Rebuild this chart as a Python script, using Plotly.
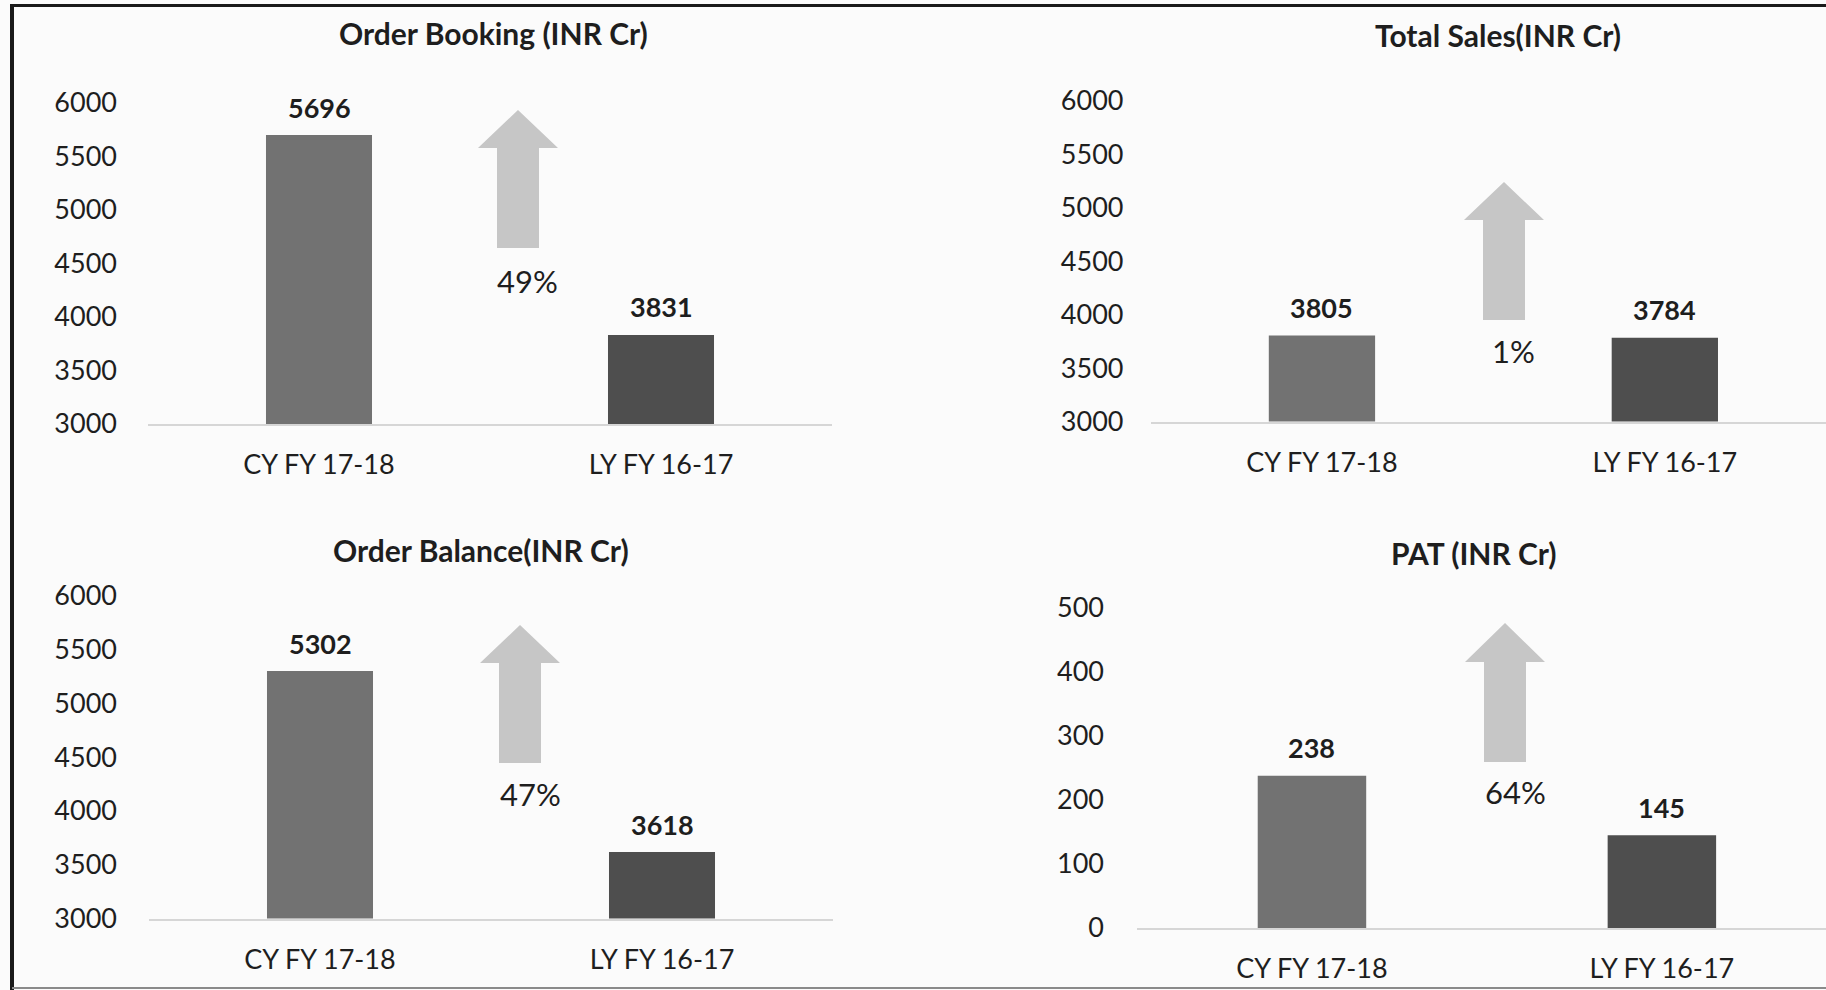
import plotly.graph_objects as go

W, H = 1826, 990

# ---------------- data ----------------
categories = ["CY FY 17-18", "LY FY 16-17"]
panel_titles = ["Order Booking (INR Cr)", "Total Sales(INR Cr)",
                "Order Balance(INR Cr)", "PAT (INR Cr)"]
order_booking = [5696, 3831]
total_sales = [3805, 3784]
order_balance = [5302, 3618]
pat = [238, 145]
growth_labels = ["49%", "1%", "47%", "64%"]
inr_ticks = [3000, 3500, 4000, 4500, 5000, 5500, 6000]
pat_ticks = [0, 100, 200, 300, 400, 500]

series = [order_booking, total_sales, order_balance, pat]
tick_sets = [inr_ticks, inr_ticks, inr_ticks, pat_ticks]

# ---------------- styling / geometry (pixels) ----------------
bar_colors = ["#727272", "#4e4e4e"]
arrow_color = "#c6c6c6"
axis_line = "#d6d6d6"
text_color = "#1e1e1e"
FONT = "Lato, 'Open Sans', 'Liberation Sans', sans-serif"

panels = [
    dict(x0=148, x1=832, ytop=102.5, ybot=424, xmax=1.5, standoff=30,
         title=(493, 33), arrow=(518, 110, 148, 248), pct=(527, 281)),
    dict(x0=1150.5, x1=1826, ytop=101, ybot=421.5, xmax=1.47, standoff=26,
         title=(1498, 35), arrow=(1504, 182, 220, 320), pct=(1513, 351)),
    dict(x0=149, x1=833, ytop=596, ybot=918.5, xmax=1.5, standoff=31,
         title=(481, 550), arrow=(520, 625, 663, 763), pct=(530, 794)),
    dict(x0=1137, x1=1826, ytop=608, ybot=928, xmax=1.469, standoff=32,
         title=(1474, 553), arrow=(1505, 623, 662, 762), pct=(1515, 792)),
]


def px(x):
    return x / W


def py(y):
    return 1 - y / H


fig = go.Figure()
annotations = []
shapes = []
layout_axes = {}

for i, (vals, ticks, title, pct, p) in enumerate(
        zip(series, tick_sets, panel_titles, growth_labels, panels), start=1):
    xa = "x" if i == 1 else f"x{i}"
    ya = "y" if i == 1 else f"y{i}"
    fig.add_trace(go.Bar(
        x=categories, y=vals, xaxis=xa, yaxis=ya,
        marker=dict(color=bar_colors, line=dict(width=0)),
        width=0.31, hoverinfo="x+y", showlegend=False,
    ))
    xkey = "xaxis" if i == 1 else f"xaxis{i}"
    ykey = "yaxis" if i == 1 else f"yaxis{i}"
    layout_axes[xkey] = dict(
        domain=[px(p["x0"]), px(p["x1"])], anchor=ya,
        type="category", range=[-0.5, p["xmax"]],
        showline=True, linecolor=axis_line, linewidth=2,
        showgrid=False, zeroline=False, ticks="",
        ticklabelstandoff=16, automargin=False,
        tickfont=dict(family=FONT, size=27, color=text_color),
        fixedrange=True,
    )
    layout_axes[ykey] = dict(
        domain=[py(p["ybot"]), py(p["ytop"])], anchor=xa,
        range=[min(ticks), max(ticks)], tickvals=ticks,
        showline=False, showgrid=False, zeroline=False, ticks="",
        ticklabelstandoff=p["standoff"], automargin=False,
        tickfont=dict(family=FONT, size=27, color=text_color),
        fixedrange=True,
    )
    # value labels above bars
    for c, v in zip(categories, vals):
        annotations.append(dict(
            xref=xa, yref=ya, x=c, y=v, text=f"<b>{v}</b>",
            showarrow=False, yanchor="middle", yshift=28,
            font=dict(family=FONT, size=27, color=text_color),
        ))
    # panel title
    tx, ty = p["title"]
    annotations.append(dict(
        xref="paper", yref="paper", x=px(tx), y=py(ty),
        text=f"<b>{title}</b>", showarrow=False,
        xanchor="center", yanchor="middle",
        font=dict(family=FONT, size=30, color=text_color),
    ))
    # growth percentage
    gx, gy = p["pct"]
    annotations.append(dict(
        xref="paper", yref="paper", x=px(gx), y=py(gy),
        text=pct, showarrow=False, xanchor="center", yanchor="middle",
        font=dict(family=FONT, size=31, color=text_color),
    ))
    # block up-arrow
    cx, top, hb, bot = p["arrow"]
    hw, sw = 40, 21
    pts = [(cx - sw, bot), (cx - sw, hb), (cx - hw, hb), (cx, top),
           (cx + hw, hb), (cx + sw, hb), (cx + sw, bot)]
    path = "M " + " L ".join(f"{px(a):.5f},{py(b):.5f}" for a, b in pts) + " Z"
    shapes.append(dict(type="path", xref="paper", yref="paper", path=path,
                       fillcolor=arrow_color, line=dict(width=0), layer="above"))

# frame lines of the scanned page
shapes += [
    dict(type="line", xref="paper", yref="paper", x0=px(10), x1=1, y0=py(5.5), y1=py(5.5),
         line=dict(color="#1a1a1a", width=3)),
    dict(type="line", xref="paper", yref="paper", x0=px(12), x1=px(12), y0=py(4), y1=0,
         line=dict(color="#1a1a1a", width=4)),
    dict(type="line", xref="paper", yref="paper", x0=px(12), x1=1, y0=py(988), y1=py(988),
         line=dict(color="#8a8a8a", width=2)),
]

fig.update_layout(
    width=W, height=H, autosize=False,
    margin=dict(l=0, r=0, t=0, b=0, pad=0, autoexpand=False),
    paper_bgcolor="#fbfbfb", plot_bgcolor="#fbfbfb",
    showlegend=False, bargap=0.69,
    font=dict(family=FONT, color=text_color),
    annotations=annotations, shapes=shapes,
    **layout_axes,
)

fig.write_html(
    "out.html",
    config={"displayModeBar": False},
    post_script="document.body.style.margin='0';document.body.style.overflow='hidden';",
)
